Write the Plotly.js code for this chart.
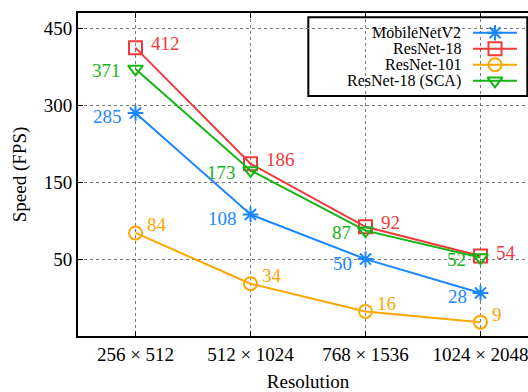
<!DOCTYPE html>
<html>
<head>
<meta charset="utf-8">
<script src="https://cdn.plot.ly/plotly-3.0.1.min.js"></script>
<style>html,body{margin:0;padding:0;overflow:hidden;background:#fff;width:528px;height:392px}</style>
</head>
<body>
<div id="chart"></div>
<script>
// ---- data ----
const resolutions = ["256 × 512", "512 × 1024", "768 × 1536", "1024 × 2048"];
const mobilenetV2 = [285, 108, 50, 28];
const resnet18 = [412, 186, 92, 54];
const resnet101 = [84, 34, 16, 9];
const resnet18SCA = [371, 173, 87, 52];
const seriesNames = ["MobileNetV2", "ResNet-18", "ResNet-101", "ResNet-18 (SCA)"];
const yTickValues = [50, 150, 300, 450];

// ---- piecewise-linear y scale (as in the original axis) ----
const yBreaks = [0, 50, 150, 300, 450];
function yScale(v) {
  for (let i = 1; i < yBreaks.length; i++) {
    if (v <= yBreaks[i] || i === yBreaks.length - 1) {
      return (i - 1) + (v - yBreaks[i - 1]) / (yBreaks[i] - yBreaks[i - 1]);
    }
  }
}

const colors = ["#1a86ff", "#ee3a3a", "#ffa500", "#14b414"];
const symbols = ["asterisk-open", "square-open", "circle-open", "triangle-down-open"];
// label placement per series: anchor side and pixel offset
const labelStyle = [
  {xanchor: "right", xshift: -12, yshift: -4},
  {xanchor: "left",  xshift: 13,  yshift: 4},
  {xanchor: "left",  xshift: 9,   yshift: 8},
  {xanchor: "right", xshift: -13, yshift: -2}
];
const allSeries = [mobilenetV2, resnet18, resnet101, resnet18SCA];
const FONT = "Liberation Serif, Times New Roman, serif";

const traces = allSeries.map((vals, i) => ({
  type: "scatter",
  mode: "lines+markers",
  x: resolutions.map((_, k) => k),
  y: vals.map(yScale),
  line: {color: colors[i], width: 2},
  marker: {symbol: symbols[i], size: 13, color: colors[i], line: {color: colors[i], width: 2}},
  cliponaxis: false,
  showlegend: false,
  hoverinfo: "skip"
}));

const annotations = [];
allSeries.forEach((vals, i) => {
  vals.forEach((v, k) => {
    annotations.push({
      xref: "x", yref: "y", x: k, y: yScale(v), text: String(v), showarrow: false,
      xanchor: labelStyle[i].xanchor, yanchor: "middle",
      xshift: labelStyle[i].xshift, yshift: labelStyle[i].yshift,
      font: {family: FONT, size: 19, color: colors[i]}
    });
  });
});

// ---- custom legend (text left of symbol) ----
const legRows = [0.939, 0.8895, 0.840, 0.790];
seriesNames.forEach((name, i) => {
  traces.push({
    type: "scatter", mode: "lines", xaxis: "x2", yaxis: "y2",
    x: [0.8587, 0.9543], y: [legRows[i], legRows[i]],
    line: {color: colors[i], width: 2}, showlegend: false, hoverinfo: "skip"
  });
  traces.push({
    type: "scatter", mode: "markers", xaxis: "x2", yaxis: "y2",
    x: [0.9065], y: [legRows[i]],
    marker: {symbol: symbols[i], size: 13, color: colors[i], line: {color: colors[i], width: 2}},
    showlegend: false, hoverinfo: "skip"
  });
  annotations.push({
    xref: "paper", yref: "paper", x: 0.837, y: legRows[i],
    xanchor: "right", yanchor: "middle", showarrow: false,
    text: name, font: {family: FONT, size: 16, color: "#000"}
  });
});

const layout = {
  width: 538, height: 392,
  margin: {l: 78, r: 0, t: 13, b: 56},
  paper_bgcolor: "#fff", plot_bgcolor: "#fff",
  font: {family: FONT, size: 19, color: "#000"},
  xaxis: {
    range: [-0.5, 3.5], tickmode: "array", tickvals: [0, 1, 2, 3], ticktext: resolutions,
    showgrid: true, gridcolor: "#777", griddash: "dot", gridwidth: 1,
    showline: true, linecolor: "#000", linewidth: 2, mirror: "ticks",
    ticks: "inside", ticklen: 5, tickwidth: 1, tickcolor: "#000",
    zeroline: false, tickfont: {family: FONT, size: 19},
    title: {text: "Resolution", font: {family: FONT, size: 19}, standoff: 14}
  },
  yaxis: {
    range: [0, 4.2], tickmode: "array", tickvals: yTickValues.map(yScale), ticktext: yTickValues.map(String),
    showgrid: true, gridcolor: "#777", griddash: "dot", gridwidth: 1,
    showline: true, linecolor: "#000", linewidth: 2, mirror: "ticks",
    ticks: "inside", ticklen: 5, tickwidth: 1, tickcolor: "#000",
    zeroline: false, tickfont: {family: FONT, size: 19},
    title: {text: "Speed (FPS)", font: {family: FONT, size: 19}, standoff: 12}
  },
  xaxis2: {overlaying: "x", range: [0, 1], visible: false, fixedrange: true},
  yaxis2: {overlaying: "y", range: [0, 1], visible: false, fixedrange: true},
  shapes: [{
    type: "rect", xref: "paper", yref: "paper", layer: "between",
    x0: 0.5007, x1: 0.9767, y0: 0.743, y1: 0.9866,
    fillcolor: "#fff", line: {color: "#000", width: 2}
  }],
  annotations: annotations
};

Plotly.newPlot("chart", traces, layout, {staticPlot: true, displayModeBar: false});
</script>
</body>
</html>
